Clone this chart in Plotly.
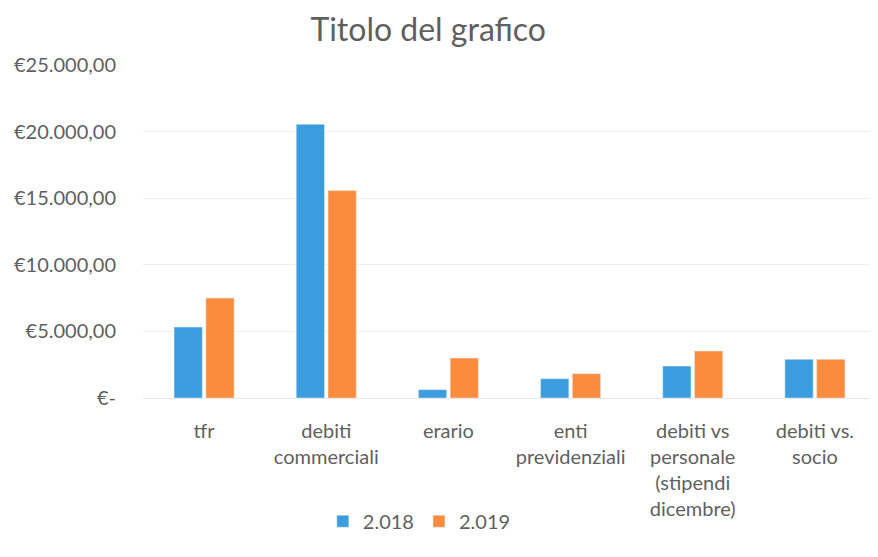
import plotly.graph_objects as go

categories = ["tfr", "debiti<br>commerciali", "erario", "enti<br>previdenziali",
              "debiti vs<br>personale<br>(stipendi<br>dicembre)", "debiti vs.<br>socio"]
values_2018 = [5325, 20550, 625, 1450, 2400, 2900]
values_2019 = [7500, 15570, 3000, 1825, 3525, 2900]
tick_vals = [0, 5000, 10000, 15000, 20000, 25000]
tick_text = ["€-", "€5.000,00", "€10.000,00", "€15.000,00", "€20.000,00", "€25.000,00"]

grey = "#5f5f5f"

fig = go.Figure()
fig.add_trace(go.Bar(x=categories, y=values_2018, name="2.018", marker_color="#3b9ddd"))
fig.add_trace(go.Bar(x=categories, y=values_2019, name="2.019", marker_color="#fb8c3e"))

# page body has an 8px margin, so the figure is a bit smaller than the window
fig.update_layout(
    width=870, height=549,
    margin=dict(l=135, r=2, t=57, b=159, autoexpand=False),
    paper_bgcolor="white", plot_bgcolor="white",
    font=dict(family="Lato", size=20, color=grey),
    title=dict(text="Titolo del grafico", x=0.483, xanchor="center", y=0.96, yanchor="middle",
               font=dict(size=32, color=grey)),
    barmode="group", bargap=0.48, bargroupgap=0.11,
    legend=dict(orientation="h", x=0.377, xanchor="center", y=-0.37, yanchor="middle",
                font=dict(size=20, color=grey)),
)
fig.update_yaxes(range=[0, 25000], tickvals=tick_vals, ticktext=tick_text,
                 showgrid=True, gridcolor="#efefef", zeroline=False,
                 showline=False, ticklabelstandoff=26, automargin=False)
fig.update_xaxes(showline=True, linecolor="#e6e6e6", ticklabelstandoff=15, automargin=False)

fig.write_html("out.html")
